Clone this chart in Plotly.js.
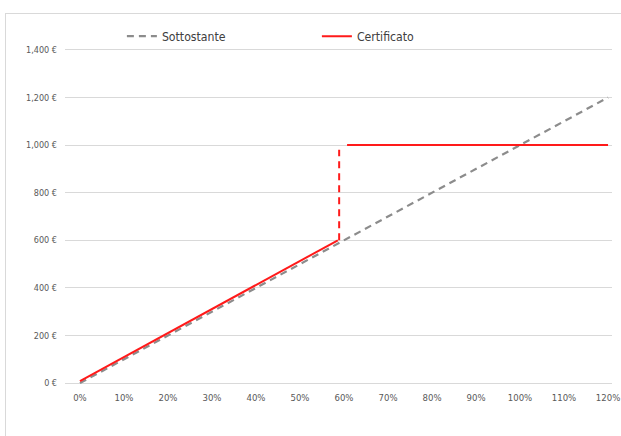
<!DOCTYPE html>
<html><head><meta charset="utf-8">
<script src="https://cdn.plot.ly/plotly-3.0.1.min.js"></script>
<style>
html,body{margin:0;padding:0;background:#fff;overflow:hidden}
#frame{position:absolute;left:5px;top:13px;width:700px;height:500px;border:1px solid #d9d9d9;box-sizing:border-box;pointer-events:none;z-index:5}
#chart{position:absolute;left:0;top:0;width:621px;height:436px}
</style></head>
<body>
<div id="chart"></div>
<div id="frame"></div>
<script>
// Data
const pct = [0,0.1,0.2,0.3,0.4,0.5,0.6,0.7,0.8,0.9,1.0,1.1,1.2];
const pctLabels = ['0%','10%','20%','30%','40%','50%','60%','70%','80%','90%','100%','110%','120%'];
const sottostante = [0,100,200,300,400,500,600,700,800,900,1000,1100,1200];
const certX = [0, 0.586, null, 0.607, 1.2];
const certY = [8, 600, null, 1000, 1000];
const jumpX = [0.589, 0.589];
const jumpY = [600, 980];
const yTicks = [0,200,400,600,800,1000,1200,1400];
const yLabels = ['0 €','200 €','400 €','600 €','800 €','1,000 €','1,200 €','1,400 €'];

const font = "'DejaVu Sans Condensed','Liberation Sans Narrow','Liberation Sans',sans-serif";

const traces = [
  {x: pct, y: sottostante, type:'scatter', mode:'lines', name:'Sottostante',
   line:{color:'#8c8c8c', width:2.2, dash:'7px,5px'}},
  {x: certX, y: certY, type:'scatter', mode:'lines', name:'Certificato',
   line:{color:'#ff1a1a', width:2}, connectgaps:false},
  {x: jumpX, y: jumpY, type:'scatter', mode:'lines', showlegend:false,
   line:{color:'#ff1a1a', width:2, dash:'7px,5px'}}
];

const layout = {
  width:621, height:436,
  margin:{l:65, r:9, t:48, b:51, autoexpand:false},
  paper_bgcolor:'#fff', plot_bgcolor:'#fff',
  font:{family:font, color:'#595959', size:9},
  showlegend:true,
  legend:{orientation:'h', x:0.104, xanchor:'left', y:1.035, yanchor:'middle',
    entrywidth:150, entrywidthmode:'pixels', itemwidth:30,
    font:{family:font, size:12.2, color:'#404040'}, bgcolor:'rgba(0,0,0,0)'},
  xaxis:{range:[-0.034,1.209], tickvals:pct, ticktext:pctLabels, showgrid:false,
    automargin:false, zeroline:false, showline:false, ticks:'', ticklabelstandoff:5,
    tickfont:{family:font, size:9.5, color:'#595959'}},
  yaxis:{range:[-8,1408], tickvals:yTicks, ticktext:yLabels,
    automargin:false, showgrid:true, gridcolor:'#d9d9d9', gridwidth:1, zeroline:false, showline:false,
    ticks:'', ticklabelstandoff:7, tickfont:{family:font, size:9, color:'#595959'}}
};

Plotly.newPlot('chart', traces, layout, {displayModeBar:false, staticPlot:true});
</script>
</body></html>
